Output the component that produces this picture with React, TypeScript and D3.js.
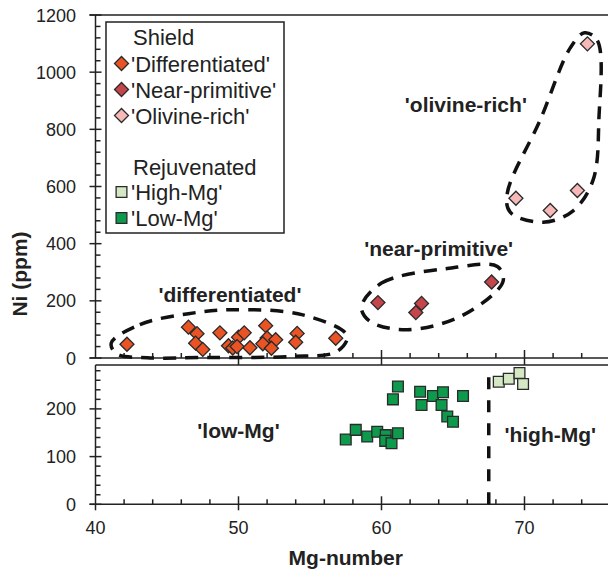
import React, { useRef, useEffect } from "react";
import * as d3 from "d3";

// shield samples [Mg-number, Ni ppm]
const differentiated = [
  [42.2, 48], [46.5, 108], [47.1, 85], [47.0, 52], [47.5, 30], [48.7, 88],
  [49.3, 43], [49.6, 35], [50.0, 73], [50.4, 88], [49.9, 40], [50.8, 36],
  [51.9, 113], [52.0, 70], [51.7, 50], [52.6, 64], [52.3, 34], [54.1, 86],
  [54.0, 55], [56.8, 69],
];
const nearPrimitive = [[59.75, 194], [62.8, 191], [62.4, 159], [67.7, 266]];
const olivineRich = [[74.4, 1099], [69.4, 559], [71.8, 516], [73.7, 586]];

// rejuvenated samples
const highMg = [[68.2, 257], [68.9, 263], [69.65, 275], [69.9, 252]];
const lowMg = [
  [61.15, 247], [60.8, 220], [62.7, 236], [63.6, 227], [64.3, 235], [65.7, 227],
  [62.8, 208], [64.2, 208], [64.6, 184], [65.0, 173], [57.5, 136], [58.2, 156],
  [59.0, 142], [59.7, 152], [60.3, 145], [60.26, 133], [60.7, 128], [61.15, 149],
];

// dashed field outlines (data units)
const diffField = [
  [41.1, 52], [43.1, 117], [46.5, 155], [49.6, 169], [54.5, 151], [57.6, 78],
  [56.9, 23], [53.6, 5], [48, 2], [43.6, 1], [41.5, 14],
];
const nearField = [
  [58.6, 178], [60.0, 262], [64.6, 313], [68.1, 320], [68.5, 268], [65.7, 150],
  [61.8, 99], [59.2, 128],
];
const olivField = [
  [74.2, 1138], [75.1, 1110], [75.2, 833], [74.8, 623], [73.4, 515], [71.3, 475],
  [69.0, 510], [68.8, 577], [71.1, 833], [73.2, 1085],
];
const mgDivide = [[67.5, 0], [67.5, 272]];

const xTicks = [40, 50, 60, 70];
const topTicks = [0, 200, 400, 600, 800, 1000, 1200];
const botTicks = [0, 100, 200];

const legendShield = [
  { label: "'Differentiated'", fill: "#ea5424" },
  { label: "'Near-primitive'", fill: "#c4464a" },
  { label: "'Olivine-rich'", fill: "#f6b9b8" },
];
const legendRejuv = [
  { label: "'High-Mg'", fill: "#d4e8c4" },
  { label: "'Low-Mg'", fill: "#0d9a4c" },
];

const fieldLabels = [
  { text: "'differentiated'", x: 49.4, y: 195, panel: "top" },
  { text: "'near-primitive'", x: 64.0, y: 358, panel: "top" },
  { text: "'olivine-rich'", x: 65.9, y: 860, panel: "top" },
  { text: "'low-Mg'", x: 50.0, y: 140, panel: "bot" },
  { text: "'high-Mg'", x: 71.8, y: 130, panel: "bot" },
];

const INK = "#222";
const FONT = "'Liberation Sans', Arial, sans-serif";

const App = () => {
  const ref = useRef(null);

  useEffect(() => {
    document.body.style.margin = "0";
    const svg = d3.select(ref.current);
    svg.selectAll("*").remove();

    const x = d3.scaleLinear().domain([40, 76]).range([95.5, 610.3]);
    const yTop = d3.scaleLinear().domain([0, 1200]).range([358, 15]);
    const yBot = d3.scaleLinear().domain([0, 292]).range([504.3, 365]);
    const xEnd = 608;

    const axes = svg.append("g").attr("stroke", INK).attr("stroke-width", 1.5);

    // frame lines
    axes.append("line").attr("x1", x(40) - 6).attr("x2", xEnd).attr("y1", yTop(1200)).attr("y2", yTop(1200));
    axes.append("line").attr("x1", x(40)).attr("x2", x(40)).attr("y1", yTop(1200)).attr("y2", yTop(0));
    axes.append("line").attr("x1", x(40) - 6).attr("x2", xEnd).attr("y1", yTop(0)).attr("y2", yTop(0));
    axes.append("line").attr("x1", x(40)).attr("x2", xEnd).attr("y1", yBot(292)).attr("y2", yBot(292));
    axes.append("line").attr("x1", x(40)).attr("x2", x(40)).attr("y1", yBot(292)).attr("y2", yBot(0) + 6);
    axes.append("line").attr("x1", x(40) - 6).attr("x2", xEnd).attr("y1", yBot(0)).attr("y2", yBot(0));

    // y ticks, top panel
    const topMinor = d3.range(0, 1201, 40).filter((v) => v % 200 !== 0);
    axes.selectAll(".tminor").data(topMinor).enter().append("line")
      .attr("x1", x(40)).attr("x2", x(40) + 5)
      .attr("y1", (d) => yTop(d)).attr("y2", (d) => yTop(d));
    axes.selectAll(".tmajor").data(topTicks).enter().append("line")
      .attr("x1", x(40) - 6).attr("x2", x(40) + 6)
      .attr("y1", (d) => yTop(d)).attr("y2", (d) => yTop(d));

    // y ticks, bottom panel
    const botMinor = d3.range(0, 292, 20).filter((v) => v % 100 !== 0);
    axes.selectAll(".bminor").data(botMinor).enter().append("line")
      .attr("x1", x(40)).attr("x2", x(40) + 5)
      .attr("y1", (d) => yBot(d)).attr("y2", (d) => yBot(d));
    axes.selectAll(".bmajor").data(botTicks).enter().append("line")
      .attr("x1", x(40) - 6).attr("x2", x(40) + 6)
      .attr("y1", (d) => yBot(d)).attr("y2", (d) => yBot(d));

    // x ticks on both panels
    const xMinor = d3.range(42, 76, 2).filter((v) => v % 10 !== 0);
    [yTop(0), yBot(0)].forEach((y0, i) => {
      axes.selectAll(".xminor" + i).data(xMinor).enter().append("line")
        .attr("x1", (d) => x(d)).attr("x2", (d) => x(d))
        .attr("y1", y0).attr("y2", y0 - 5);
      axes.selectAll(".xmajor" + i).data(xTicks.slice(1)).enter().append("line")
        .attr("x1", (d) => x(d)).attr("x2", (d) => x(d))
        .attr("y1", y0 - 8).attr("y2", i === 0 ? yBot(292) : y0 + 6);
    });

    // tick labels
    const labels = svg.append("g").attr("font-family", FONT).attr("font-size", 18).attr("fill", INK);
    labels.selectAll(".ytl").data(topTicks).enter().append("text")
      .attr("x", 76).attr("y", (d) => yTop(d) + 6.5).attr("text-anchor", "end").text((d) => d);
    labels.selectAll(".ybl").data(botTicks).enter().append("text")
      .attr("x", 76).attr("y", (d) => yBot(d) + 6.5).attr("text-anchor", "end").text((d) => d);
    labels.selectAll(".xl").data(xTicks).enter().append("text")
      .attr("x", (d) => x(d)).attr("y", 534).attr("text-anchor", "middle").text((d) => d);

    // axis titles
    svg.append("text").attr("font-family", FONT).attr("font-size", 21).attr("font-weight", "bold")
      .attr("fill", INK).attr("text-anchor", "middle")
      .attr("x", x(57.5)).attr("y", 565).text("Mg-number");
    svg.append("text").attr("font-family", FONT).attr("font-size", 21).attr("font-weight", "bold")
      .attr("fill", INK).attr("text-anchor", "middle")
      .attr("transform", "translate(27,274) rotate(-90)").text("Ni (ppm)");

    // dashed fields
    const fieldLine = (yS) => d3.line().x((d) => x(d[0])).y((d) => yS(d[1])).curve(d3.curveCatmullRomClosed);
    const fields = svg.append("g").attr("fill", "none").attr("stroke", "#111")
      .attr("stroke-width", 3.5).attr("stroke-dasharray", "13,9");
    fields.append("path").attr("d", fieldLine(yTop)(diffField));
    fields.append("path").attr("d", fieldLine(yTop)(nearField));
    fields.append("path").attr("d", fieldLine(yTop)(olivField));
    fields.append("path").attr("stroke-dasharray", "12,11")
      .attr("d", d3.line().x((d) => x(d[0])).y((d) => yBot(d[1]))(mgDivide));

    // field labels
    svg.append("g").attr("font-family", FONT).attr("font-size", 21).attr("font-weight", "bold").attr("fill", INK)
      .selectAll("text").data(fieldLabels).enter().append("text")
      .attr("text-anchor", "middle")
      .attr("x", (d) => x(d.x))
      .attr("y", (d) => (d.panel === "top" ? yTop(d.y) : yBot(d.y)))
      .text((d) => d.text);

    // markers
    const diamond = d3.symbol(d3.symbolSquare, 98)();
    const square = d3.symbol(d3.symbolSquare, 116)();
    const drawPts = (data, yS, fill, shape, rot) => {
      svg.append("g").selectAll("path").data(data).enter().append("path")
        .attr("d", shape)
        .attr("transform", (d) => `translate(${x(d[0])},${yS(d[1])}) rotate(${rot})`)
        .attr("fill", fill).attr("stroke", "#2a2a2a").attr("stroke-width", 1.3);
    };
    drawPts(differentiated, yTop, legendShield[0].fill, diamond, 45);
    drawPts(nearPrimitive, yTop, legendShield[1].fill, diamond, 45);
    drawPts(olivineRich, yTop, legendShield[2].fill, diamond, 45);
    drawPts(lowMg, yBot, legendRejuv[1].fill, square, 0);
    drawPts(highMg, yBot, legendRejuv[0].fill, square, 0);

    // legend
    const lg = svg.append("g").attr("font-family", FONT).attr("font-size", 22).attr("fill", INK);
    lg.append("rect").attr("x", 106).attr("y", 22).attr("width", 178).attr("height", 211)
      .attr("fill", "white").attr("stroke", INK).attr("stroke-width", 1.5);
    lg.append("text").attr("x", 133).attr("y", 45).text("Shield");
    lg.append("text").attr("x", 133).attr("y", 175).text("Rejuvenated");
    legendShield.forEach((d, i) => {
      const cy = 63.5 + i * 26;
      lg.append("path").attr("d", diamond).attr("transform", `translate(121.5,${cy}) rotate(45)`)
        .attr("fill", d.fill).attr("stroke", "#2a2a2a").attr("stroke-width", 1.3);
      lg.append("text").attr("x", 131).attr("y", cy + 8).text(d.label);
    });
    legendRejuv.forEach((d, i) => {
      const cy = 192 + i * 26;
      lg.append("path").attr("d", square).attr("transform", `translate(121.5,${cy})`)
        .attr("fill", d.fill).attr("stroke", "#2a2a2a").attr("stroke-width", 1.3);
      lg.append("text").attr("x", 131).attr("y", cy + 8).text(d.label);
    });
  }, []);

  return (
    <div>
      <svg ref={ref} width={608} height={576} style={{ display: "block" }}></svg>
    </div>
  );
};

export default App;
